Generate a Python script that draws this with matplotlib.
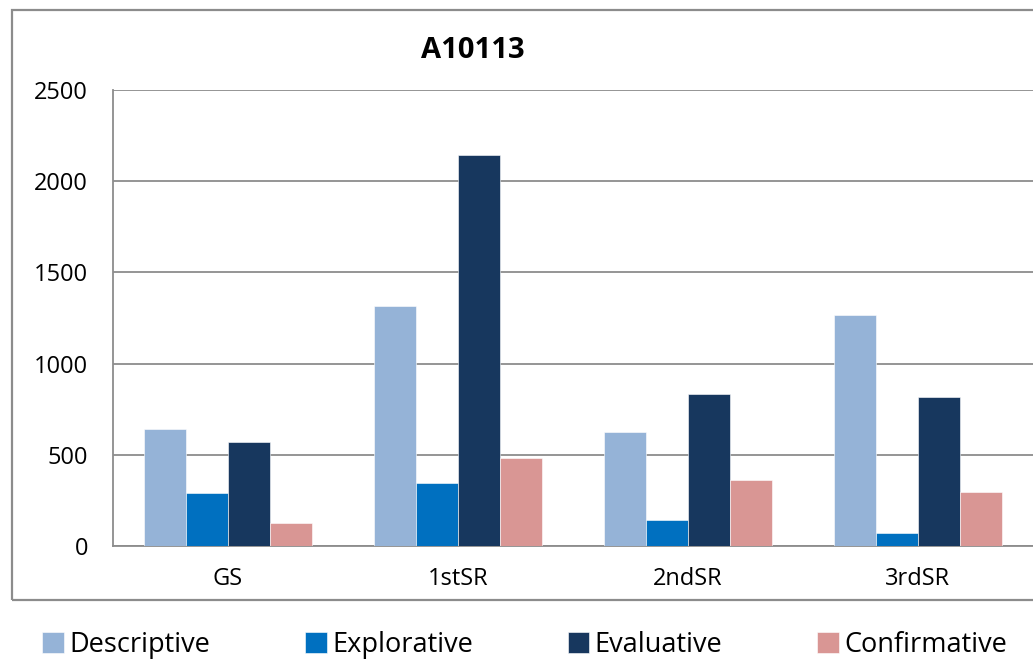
import matplotlib
matplotlib.use("Agg")
import matplotlib.pyplot as plt
from matplotlib.patches import Rectangle
import numpy as np

categories = ["GS", "1stSR", "2ndSR", "3rdSR"]
series_names = ["Descriptive", "Explorative", "Evaluative", "Confirmative"]
descriptive = [641, 1316, 625, 1266]
explorative = [290, 345, 143, 71]
evaluative = [570, 2144, 833, 817]
confirmative = [126, 482, 362, 296]
colors = ["#95B3D7", "#0070C0", "#17375E", "#D99694"]

plt.rcParams["font.family"] = ["Open Sans", "DejaVu Sans"]

fig = plt.figure(figsize=(10.33, 6.62), dpi=100)
ax = fig.add_axes([113 / 1033, 1 - 546 / 662, 1 - 113 / 1033, (546 - 90) / 662])

# outer chart border
fig.patches.append(Rectangle((12 / 1033, 1 - 600 / 662), 1.1, (600 - 10) / 662,
                             transform=fig.transFigure, fill=False,
                             edgecolor="#8c8c8c", linewidth=1.6))

x = np.arange(len(categories))
width = 0.183
values = [descriptive, explorative, evaluative, confirmative]
for i, (name, vals) in enumerate(zip(series_names, values)):
    ax.bar(x + (i - 1.5) * width, vals, width, color=colors[i], label=name,
           edgecolor="white", linewidth=0.4, zorder=3)

ax.set_xlim(-0.5, 3.5)
ax.set_ylim(0, 2500)
ax.set_yticks(np.arange(0, 2501, 500))
ax.set_xticks(x)
ax.set_xticklabels(categories)
ax.grid(axis="y", color="#8c8c8c", linewidth=1.3, zorder=0)
for side in ["top", "right"]:
    ax.spines[side].set_visible(False)
ax.spines["left"].set_color("#8c8c8c")
ax.spines["bottom"].set_color("#8c8c8c")
ax.spines["left"].set_linewidth(1.3)
ax.spines["bottom"].set_linewidth(1.3)
ax.tick_params(axis="both", length=0, labelsize=17)
ax.tick_params(axis="x", pad=15)
ax.tick_params(axis="y", pad=18)

fig.text(473 / 1033, 1 - 50 / 662, "A10113", ha="center", va="center",
         fontsize=21, fontweight="bold")

handles, labels = ax.get_legend_handles_labels()
fig.legend(handles, labels, loc="center", bbox_to_anchor=(0.508, 1 - 645 / 662),
           ncol=4, frameon=False, fontsize=19.5, handlelength=0.8, handleheight=0.8,
           handletextpad=0.2, columnspacing=3.5)

fig.savefig("out.png", dpi=100)
